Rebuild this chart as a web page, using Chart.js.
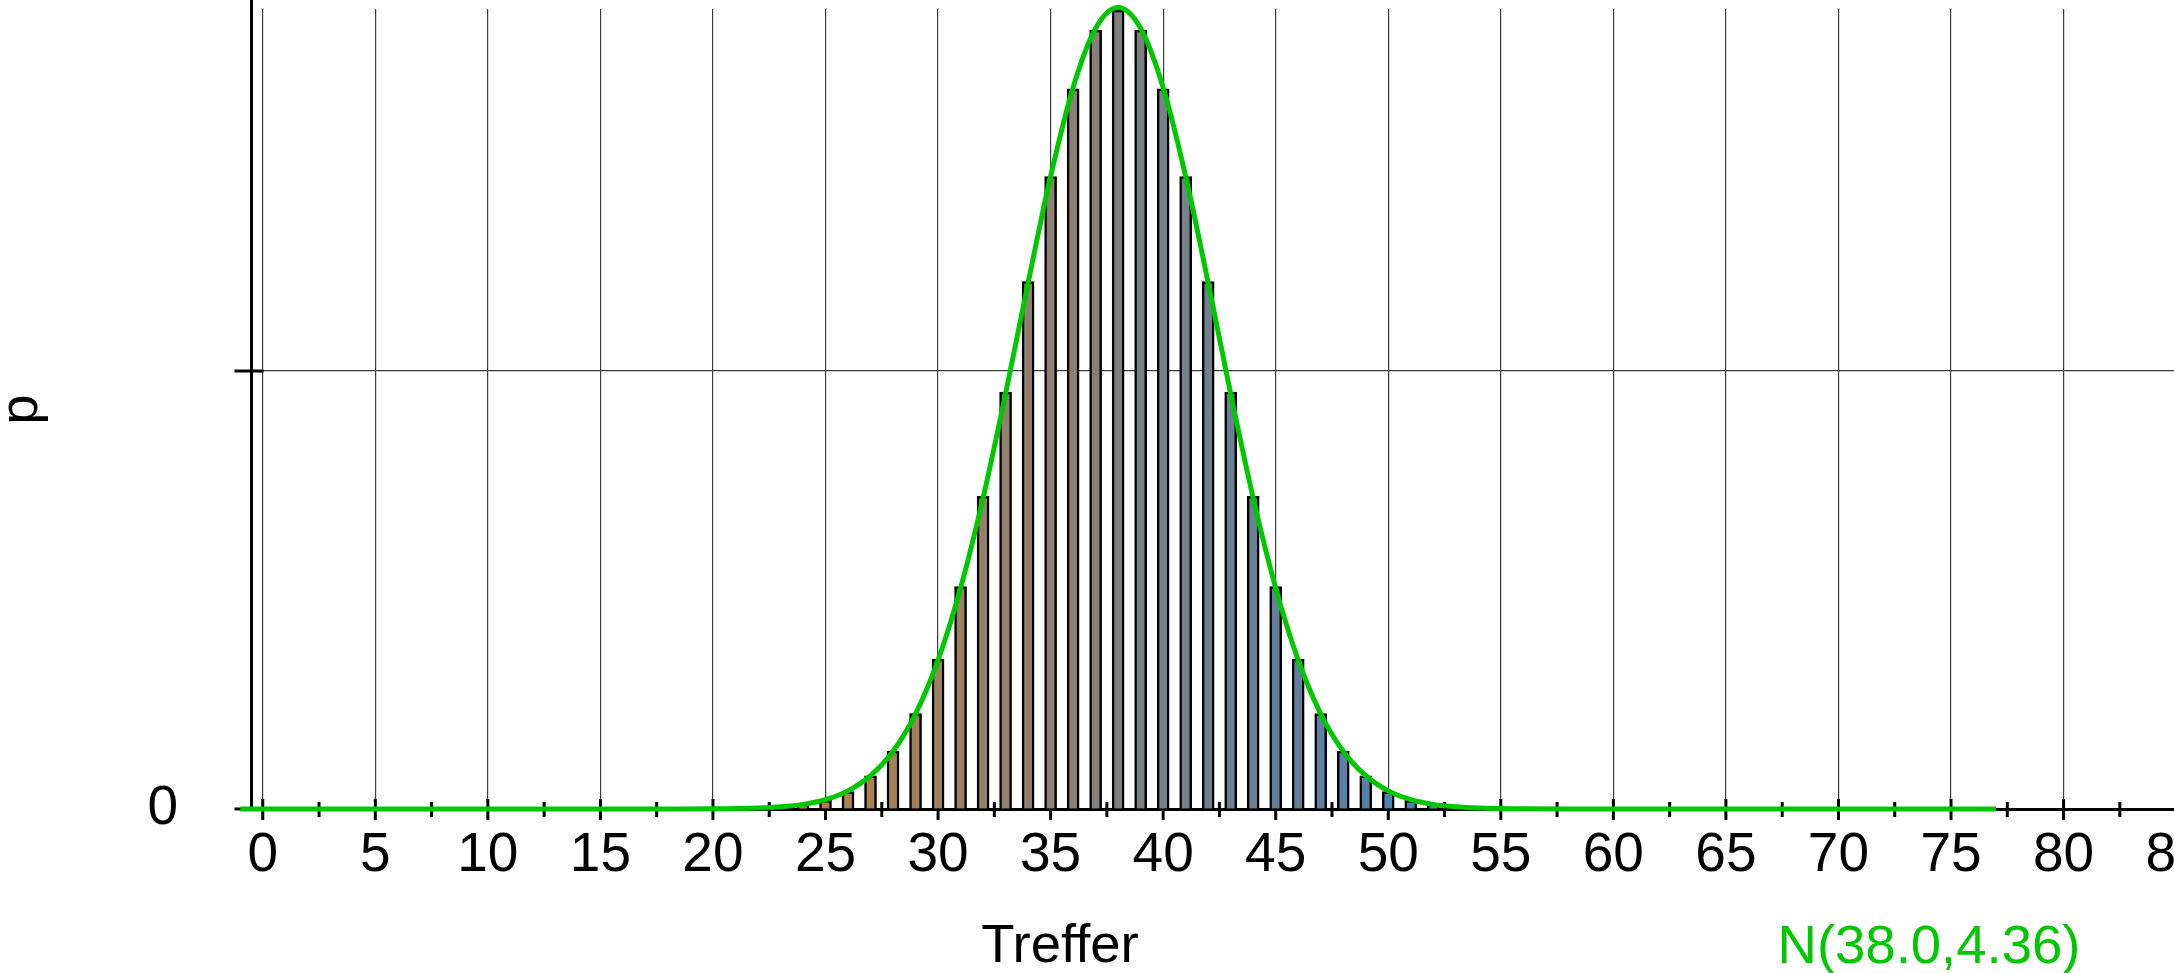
<!DOCTYPE html>
<html>
<head>
<meta charset="utf-8">
<script src="https://cdn.jsdelivr.net/npm/chart.js@4.4.1/dist/chart.umd.min.js"></script>
<style>
  html, body { margin: 0; padding: 0; background: #fff; overflow: hidden; }
  #wrap { width: 2300px; height: 973px; }
</style>
</head>
<body>
<div id="wrap"><canvas id="chart" width="2300" height="973"></canvas></div>
<script>
// Trefferzahl (bars)
var treffer = [22, 23, 24, 25, 26, 27, 28, 29, 30, 31, 32, 33, 34, 35, 36, 37, 38,
               39, 40, 41, 42, 43, 44, 45, 46, 47, 48, 49, 50, 51, 52, 53, 54];
var probability = [0.0001, 0.0002, 0.0005, 0.0010, 0.0020, 0.0038, 0.0066, 0.0109, 0.0171,
                   0.0254, 0.0357, 0.0476, 0.0602, 0.0722, 0.0822, 0.0889, 0.0912,
                   0.0889, 0.0822, 0.0722, 0.0602, 0.0476, 0.0357, 0.0254, 0.0171,
                   0.0109, 0.0066, 0.0038, 0.0020, 0.0010, 0.0005, 0.0002, 0.0001];

// green normal curve N(38.0,4.36)
var curveX = [-1, 18, 20, 22, 23, 24, 25, 26, 27, 28, 29, 30, 31, 32, 33, 34, 35, 36, 37, 38,
              39, 40, 41, 42, 43, 44, 45, 46, 47, 48, 49, 50, 51, 52, 53, 54, 56, 58, 77];
var curveY = [0, 0.0000025, 0.0000182, 0.000109, 0.000246, 0.000528, 0.00107, 0.00207, 0.00380,
              0.00659, 0.01087, 0.01700, 0.02522, 0.03550, 0.04741, 0.06007, 0.07221, 0.08236,
              0.08912, 0.09150, 0.08912, 0.08236, 0.07221, 0.06007, 0.04741, 0.03550, 0.02522,
              0.01700, 0.01087, 0.00659, 0.00380, 0.00207, 0.00107, 0.000528, 0.000246, 0.000109,
              0.0000182, 0.0000025, 0];

var xTicks = [0, 5, 10, 15, 20, 25, 30, 35, 40, 45, 50, 55, 60, 65, 70, 75, 80, 85];
var yTicks = [0, 0.05];

var FONT = '"Liberation Sans", Arial, sans-serif';
var GREEN = '#00c800';
var GRID = '#3c3c3c';

// brown on the left, grey in the middle, blue on the right
function barColor(x) {
  var t = x - 38;
  var r = Math.round(128 - 3.8 * t);
  var b = Math.round(128 + 3.8 * t);
  return 'rgb(' + r + ',128,' + b + ')';
}

var axisMarks = {
  id: 'axisMarks',
  beforeDatasetsDraw: function(chart) {
    var ctx = chart.ctx, x = chart.scales.x, y = chart.scales.y, a = chart.chartArea;
    ctx.save();
    ctx.strokeStyle = '#000';
    ctx.lineWidth = 3;
    ctx.beginPath();
    ctx.moveTo(a.left, 0);
    ctx.lineTo(a.left, a.top + 2);
    xTicks.forEach(function(v) {
      var px = x.getPixelForValue(v);
      ctx.moveTo(px, a.bottom - 10);
      ctx.lineTo(px, a.bottom + 11);
      var pm = x.getPixelForValue(v + 2.5);
      ctx.moveTo(pm, a.bottom - 7);
      ctx.lineTo(pm, a.bottom + 8);
    });
    yTicks.forEach(function(v) {
      var py = y.getPixelForValue(v);
      ctx.moveTo(a.left - 17, py);
      ctx.lineTo(a.left + 12, py);
    });
    ctx.stroke();
    ctx.restore();
  },
  afterDraw: function(chart) {
    var ctx = chart.ctx;
    ctx.save();
    ctx.font = '54.5px ' + FONT;
    ctx.textAlign = 'center';
    ctx.textBaseline = 'middle';
    ctx.fillStyle = '#000';
    ctx.fillText('Treffer', 1060, 947);
    ctx.fillStyle = GREEN;
    ctx.fillText('N(38.0,4.36)', 1929, 948);
    ctx.fillStyle = '#000';
    ctx.translate(37, 409.5);
    ctx.rotate(-Math.PI / 2);
    ctx.textBaseline = 'alphabetic';
    ctx.fillText('p', 0, 0);
    ctx.restore();
  }
};

new Chart(document.getElementById('chart'), {
  type: 'bar',
  data: {
    datasets: [{
      type: 'line',
      data: curveX.map(function(x, i) { return {x: x, y: curveY[i]}; }),
      borderColor: GREEN,
      borderWidth: 5,
      pointRadius: 0,
      cubicInterpolationMode: 'monotone',
      fill: false,
      clip: false,
      order: 0
    }, {
      type: 'bar',
      data: treffer.map(function(x, i) { return {x: x, y: probability[i]}; }),
      backgroundColor: function(c) { return barColor(c.raw ? c.raw.x : 38); },
      borderColor: '#000',
      borderWidth: 2.5,
      barThickness: 12,
      order: 1
    }]
  },
  options: {
    responsive: false,
    animation: false,
    devicePixelRatio: 1,
    layout: { padding: { top: 9, right: 45.1, left: 0, bottom: 0 } },
    plugins: { legend: { display: false }, tooltip: { enabled: false } },
    scales: {
      x: {
        type: 'linear',
        min: -0.5,
        max: 88.5,
        offset: false,
        afterBuildTicks: function(s) { s.ticks = xTicks.map(function(v) { return {value: v}; }); },
        afterFit: function(s) { s.height = 164; s.paddingLeft = 0; s.paddingRight = 0; },
        ticks: {
          font: { family: FONT, size: 55 },
          color: '#000',
          padding: 3,
          maxRotation: 0,
          autoSkip: false,
          callback: function(v) { return String(v); }
        },
        grid: { offset: false, color: GRID, lineWidth: 1.2, tickLength: 11, tickColor: 'transparent' },
        border: { color: '#000', width: 3 }
      },
      y: {
        min: 0,
        max: 0.09132,
        afterBuildTicks: function(s) { s.ticks = yTicks.map(function(v) { return {value: v}; }); },
        afterFit: function(s) { s.width = 251.5; s.paddingTop = 0; s.paddingBottom = 0; },
        ticks: {
          font: { family: FONT, size: 55 },
          color: '#000',
          padding: 58.5,
          callback: function(v) { return v === 0 ? '0' : ''; }
        },
        grid: {
          color: function(c) { return c.tick && c.tick.value === 0 ? 'transparent' : GRID; },
          lineWidth: 1.2,
          tickLength: 15,
          tickColor: 'transparent'
        },
        border: { color: '#000', width: 3 }
      }
    }
  },
  plugins: [axisMarks]
});
</script>
</body>
</html>
